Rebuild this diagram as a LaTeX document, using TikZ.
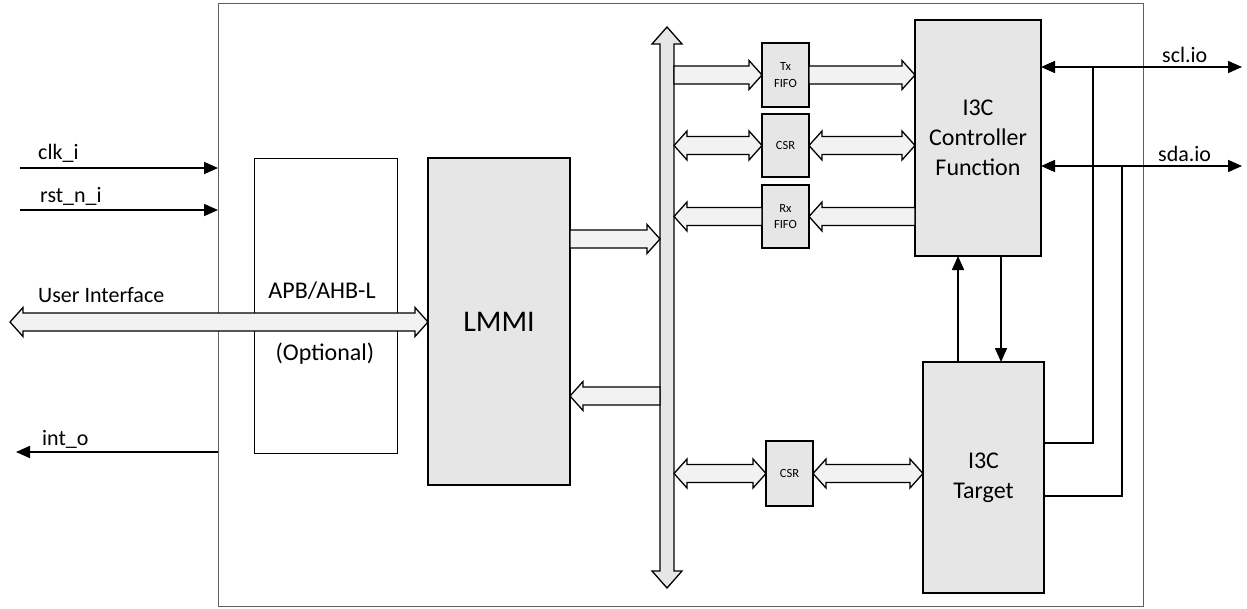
\documentclass[tikz,border=0pt]{standalone}
\usepackage{fontspec}
\setmainfont{Carlito}
\usetikzlibrary{arrows.meta,calc}

\definecolor{boxgray}{RGB}{230,230,230}
\definecolor{arrowgray}{RGB}{242,242,242}
\definecolor{framegray}{RGB}{95,95,95}

%% block arrow sizes: shaft half width, head half width, head length
\def\arrsw{9pt}
\def\arrhw{14.5pt}
\def\arrhl{13pt}

%% block arrow, one head at #2
\newcommand{\barrow}[2]{%
  \draw[barrow] let \p1=(#1), \p2=(#2), \n1={ifthenelse(\x2>\x1,1,-1)} in
    (\x1,{\y1-\arrsw}) -- ({\x2-(\n1)*\arrhl},{\y1-\arrsw}) -- ({\x2-(\n1)*\arrhl},{\y1-\arrhw})
    -- (\x2,\y1) -- ({\x2-(\n1)*\arrhl},{\y1+\arrhw}) -- ({\x2-(\n1)*\arrhl},{\y1+\arrsw})
    -- (\x1,{\y1+\arrsw}) -- cycle;}
%% block arrow, heads at both ends (#1 left of #2)
\newcommand{\bdarrow}[2]{%
  \draw[barrow] let \p1=(#1), \p2=(#2) in
    (\x1,\y1) -- ({\x1+\arrhl},{\y1+\arrhw}) -- ({\x1+\arrhl},{\y1+\arrsw})
    -- ({\x2-\arrhl},{\y1+\arrsw}) -- ({\x2-\arrhl},{\y1+\arrhw}) -- (\x2,\y1)
    -- ({\x2-\arrhl},{\y1-\arrhw}) -- ({\x2-\arrhl},{\y1-\arrsw})
    -- ({\x1+\arrhl},{\y1-\arrsw}) -- ({\x1+\arrhl},{\y1-\arrhw}) -- cycle;}

\begin{document}
\begin{tikzpicture}[x=1pt, y=-1pt, line join=miter,
  gbox/.style={draw, line width=2pt, fill=boxgray, outer sep=0pt, align=center,
    font=\fontsize{24}{30}\selectfont},
  sbox/.style={gbox, minimum width=47pt, font=\fontsize{12.5}{16.5}\selectfont},
  barrow/.style={draw, line width=1.3pt, fill=arrowgray},
  sig/.style={line width=1.6pt, -{Triangle[length=14pt,width=12pt]}},
  wire/.style={line width=1.2pt},
  lbl/.style={inner sep=0pt, font=\fontsize{22}{26}\selectfont}]

  %% ════ frame ════
  \node[draw=framegray, line width=1pt, outer sep=0pt, minimum width=925pt, minimum height=603pt] (ip) at (680.5,304.5) {};

  %% ════ blocks ════
  \node[draw, line width=1pt, fill=white, outer sep=0pt, minimum width=143pt, minimum height=295pt] (apb) at (325.5,305.5) {};
  \node[gbox, minimum width=142pt, minimum height=327pt, font=\fontsize{30}{36}\selectfont] (lmmi) at (499,321.5) {LMMI};
  \node[sbox, minimum height=64pt] (txf) at (785.5,75) {Tx\\FIFO};
  \node[sbox, minimum height=63pt] (csra) at (785.5,145.5) {CSR};
  \node[sbox, minimum height=63pt] (rxf) at (785.5,216.5) {Rx\\FIFO};
  \node[sbox, minimum height=65pt] (csrb) at (789.5,473.5) {CSR};
  \node[gbox, minimum width=126pt, minimum height=236pt] (ctrl) at (978,138) {I3C\\Controller\\Function};
  \node[gbox, minimum width=121pt, minimum height=231pt] (tgt) at (983.5,477.5) {I3C\\Target};

  %% ════ bus ════
  \coordinate (bustop) at (667,27);
  \coordinate (busbot) at (667,588);
  \coordinate (busL) at (660,0);
  \coordinate (busR) at (674,0);
  \draw[barrow, fill=boxgray] let \p1=(bustop), \p2=(busbot) in
    (\x1,\y1) -- ({\x1+15pt},{\y1-17pt}) -- ({\x1+7pt},{\y1-17pt}) -- ({\x1+7pt},{\y2+17pt})
    -- ({\x1+15pt},{\y2+17pt}) -- (\x2,\y2) -- ({\x1-15pt},{\y2+17pt}) -- ({\x1-7pt},{\y2+17pt})
    -- ({\x1-7pt},{\y1-17pt}) -- ({\x1-15pt},{\y1-17pt}) -- cycle;

  %% ════ block arrows ════
  \coordinate (uil) at (10,322);
  \coordinate (lm2bus) at (0,239);
  \coordinate (bus2lm) at (0,396);
  \bdarrow{uil}{lmmi.west |- uil}
  \barrow{lmmi.east |- lm2bus}{busL |- lm2bus}
  \barrow{busL |- bus2lm}{lmmi.east |- bus2lm}
  \barrow{busR |- txf}{txf.west}
  \barrow{txf.east}{ctrl.west |- txf}
  \bdarrow{busR |- csra}{csra.west}
  \bdarrow{csra.east}{ctrl.west |- csra}
  \barrow{ctrl.west |- rxf}{rxf.east}
  \barrow{rxf.west}{busR |- rxf}
  \bdarrow{busR |- csrb}{csrb.west}
  \bdarrow{csrb.east}{tgt.west |- csrb}

  %% ════ block texts ════
  \node[lbl, font=\fontsize{24}{30}\selectfont, anchor=base] (apbt) at (322,298) {APB/AHB-L};
  \node[lbl, font=\fontsize{24}{30}\selectfont, anchor=base] (optt) at (325,360) {(Optional)};

  %% ════ signals ════
  \coordinate (clkin) at (20,168);
  \coordinate (rstin) at (20,210);
  \coordinate (intout) at (16,452);
  \draw[sig] (clkin) -- (clkin -| ip.west);
  \draw[sig] (rstin) -- (rstin -| ip.west);
  \draw[sig] (intout -| ip.west) -- (intout);
  \node[lbl, anchor=base west] (clkl) at (38,159) {clk\_i};
  \node[lbl, anchor=base west] (rstl) at (40,202) {rst\_n\_i};
  \node[lbl, anchor=base west] (uilbl) at (38,302) {User Interface};
  \node[lbl, anchor=base west] (intl) at (42,445) {int\_o};

  \coordinate (upx) at (958,0);
  \coordinate (dnx) at (1001,0);
  \draw[sig] (upx |- tgt.north) -- (upx |- ctrl.south);
  \draw[sig] (dnx |- ctrl.south) -- (dnx |- tgt.north);

  \coordinate (sclout) at (1242,67);
  \coordinate (sdaout) at (1242,166);
  \coordinate (sclj) at (1093,67);
  \coordinate (sdaj) at (1122,166);
  \coordinate (sclt) at (0,443);
  \coordinate (sdat) at (0,496);
  \draw[sig, {Triangle[length=14pt,width=12pt]}-{Triangle[length=14pt,width=12pt]}] (ctrl.east |- sclout) -- (sclout);
  \draw[sig, {Triangle[length=14pt,width=12pt]}-{Triangle[length=14pt,width=12pt]}] (ctrl.east |- sdaout) -- (sdaout);
  \draw[wire] (tgt.east |- sclt) -| (sclj);
  \draw[wire] (tgt.east |- sdat) -| (sdaj);
  \node[lbl, anchor=base west] (scll) at (1162,62) {scl.io};
  \node[lbl, anchor=base west] (sdal) at (1158,161) {sda.io};

  \pgfresetboundingbox
  \path[use as bounding box] (0,0) rectangle (1247,608);
\end{tikzpicture}
\end{document}
